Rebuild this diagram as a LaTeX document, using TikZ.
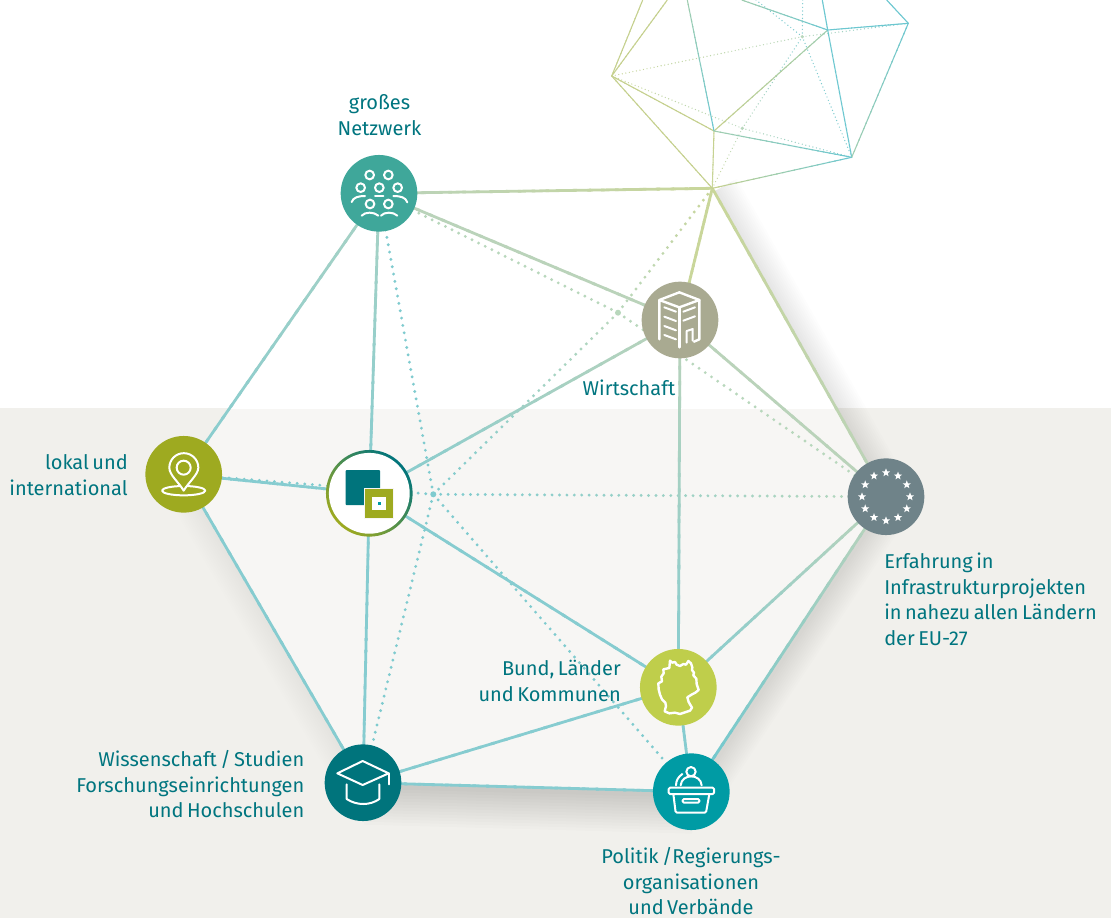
\documentclass[tikz,border=0pt]{standalone}
\usepackage{fontspec}
\setmainfont{Fira Sans}[WordSpace=0.65]
\usetikzlibrary{calc,shapes.geometric}
\pgfdeclarelayer{back}\pgfdeclarelayer{edges}\pgfsetlayers{back,edges,main}
\definecolor{txt}{HTML}{00757F}
\definecolor{pagebg}{HTML}{F1F0EC}
\definecolor{hexbg}{HTML}{F7F6F4}
\definecolor{lteal}{HTML}{86CCD0}
\definecolor{lmix}{HTML}{A8D2C4}
\definecolor{lgreen}{HTML}{BAD3BA}
\definecolor{lyel}{HTML}{C9D69A}
\definecolor{tyel}{HTML}{C5D08E}
\definecolor{tteal}{HTML}{6CC7D0}
\definecolor{tmix}{HTML}{A0CDB0}
\definecolor{dteal}{HTML}{7FCBCF}
\definecolor{dgreen}{HTML}{B8D7BC}
\definecolor{cN}{HTML}{3FA79A}
\definecolor{cW}{HTML}{A9AA91}
\definecolor{cL}{HTML}{9EAA20}
\definecolor{cE}{HTML}{6F8389}
\definecolor{cD}{HTML}{BFCE4B}
\definecolor{cP}{HTML}{009BA4}
\definecolor{cS}{HTML}{00747C}
\tikzset{
  hub/.style={circle,minimum size=57.5pt,inner sep=0pt,fill=#1},
  lab/.style={inner sep=0pt,text=txt,text height=11pt,text depth=3pt,font=\fontsize{15}{19.35}\selectfont},
  ico/.style={draw=white,line width=1.5pt,line join=round,line cap=round}
}
% gradient line: from, to, colour at from, colour at to, width
\newcommand\gl[5]{%
  \foreach \i in {0,...,23}{%
    \pgfmathtruncatemacro\pc{100*\i/23}%
    \pgfmathsetmacro\ea{\i/24}%
    \pgfmathsetmacro\eb{min(1,(\i+1.25)/24)}%
    \draw[color=#4!\pc!#3,line width=#5] ($(#1.center)!\ea!(#2.center)$) -- ($(#1.center)!\eb!(#2.center)$);
  }}
% dotted gradient line: from, to, colours, spacing px, radius px
\newcommand\dl[6]{%
  \pgfpointdiff{\pgfpointanchor{#1}{center}}{\pgfpointanchor{#2}{center}}%
  \pgfgetlastxy{\ddx}{\ddy}%
  \pgfmathtruncatemacro\nn{veclen(\ddx,\ddy)/(#5*0.75)}%
  \foreach \i in {0,...,\nn}{%
    \pgfmathtruncatemacro\pc{100*\i/\nn}%
    \pgfmathsetmacro\ea{\i/\nn}%
    \fill[color=#4!\pc!#3] ($(#1.center)!\ea!(#2.center)$) circle[radius=#6];
  }}
% soft shadow along one side: from, to, opacity, width step
\newcommand\softside[4]{%
  \foreach \k in {1,...,13}{%
    \draw[black,opacity=#3,line width=\k*#4*0.75pt]
      ([shift={(2,3)}]#1.center) -- ([shift={(2,3)}]#2.center);
  }}
\begin{document}
\begin{tikzpicture}[x=0.75pt,y=-0.75pt]
\useasboundingbox (0,0) rectangle (1111,918);
% hubs
\node[hub=cN] (N) at (379,193.3) {};
\node[hub=cW] (W) at (680,320) {};
\node[hub=cL] (L) at (183.7,474.3) {};
\node[hub=cE] (E) at (886,496.7) {};
\node[hub=cD] (D) at (678.3,687.3) {};
\node[hub=cP] (P) at (691.3,791.7) {};
\node[hub=cS] (S) at (363,782.7) {};
\node[circle,minimum size=65pt,inner sep=0pt,left color=cS,right color=cL,shading angle=-45] (Z) at (369.3,493.3) {};
\node[circle,minimum size=60.6pt,inner sep=0pt,fill=white] (Zi) at (369.3,493.3) {};
% junctions
\coordinate (T) at (712.3,188.3);
\coordinate (X) at (433.3,494.3);
\coordinate (Y) at (618,312.7);
\coordinate (Pa) at (611.7,76);
\coordinate (Pb) at (714,131);
\coordinate (Pc) at (851.7,157.3);
\coordinate (Pe) at (827.7,30);
\coordinate (Pf) at (908.3,23.3);
\coordinate (Pg) at (802.3,36.7);
\coordinate (Pv) at (742.3,128.3);
\coordinate (U1) at (642.7,0);
\coordinate (U2) at (667.3,0);
\coordinate (U3) at (687.3,0);
\coordinate (U4) at (741.7,0);
\coordinate (U5) at (822.3,0);
\coordinate (U6) at (886.7,0);
\coordinate (U7) at (756,0);
\coordinate (U8) at (802.7,0);
% backgrounds and shadow
\begin{pgfonlayer}{back}
\fill[pagebg] (0,408) rectangle (1111,918);
\softside{T}{E}{0.007}{4}
\softside{E}{P}{0.008}{4}
\softside{P}{S}{0.01}{6}
\softside{S}{L}{0.005}{4}
\begin{scope}
\clip (0,408) rectangle (1111,918);
\fill[hexbg] (N.center) -- (T.center) -- (E.center) -- (P.center) -- (S.center) -- (L.center) -- cycle;
\end{scope}
\begin{scope}
\clip (0,0) rectangle (1111,408);
\fill[white] (N.center) -- (T.center) -- (E.center) -- (P.center) -- (S.center) -- (L.center) -- cycle;
\end{scope}
\end{pgfonlayer}
% connectors
\begin{pgfonlayer}{edges}
% dotted main
\dl{N}{Y}{dgreen}{dgreen}{7.4}{1.6}
\dl{T}{Y}{lyel}{dgreen}{7.4}{1.6}
\dl{Y}{E}{dgreen}{dgreen}{7.4}{1.6}
\dl{Y}{X}{dgreen}{dteal}{7.4}{1.6}
\dl{L}{X}{dteal}{dteal}{7.4}{1.6}
\dl{N}{X}{dteal}{dteal}{7.4}{1.6}
\dl{X}{P}{dteal}{dteal}{7.4}{1.6}
\dl{X}{S}{dteal}{dteal}{7.4}{1.6}
\dl{X}{E}{dteal}{dgreen}{7.4}{1.6}
\fill[dgreen] (Y) circle[radius=3];
\fill[dteal] (X) circle[radius=3];
% solid main
\gl{N}{T}{lgreen}{lyel}{2.1pt}
\gl{N}{W}{lgreen}{lgreen}{2.1pt}
\gl{N}{L}{lmix}{lteal}{2.1pt}
\gl{N}{Z}{lmix}{lteal}{2.1pt}
\gl{Z}{S}{lteal}{lteal}{2.1pt}
\gl{L}{Z}{lteal}{lteal}{2.1pt}
\gl{L}{S}{lteal}{lteal}{2.1pt}
\gl{W}{Z}{lgreen}{lteal}{2.1pt}
\gl{W}{D}{lgreen}{lteal}{2.1pt}
\gl{W}{E}{lgreen}{lgreen}{2.1pt}
\gl{T}{W}{lyel}{lyel}{2.1pt}
\gl{T}{E}{lyel}{lgreen}{2.1pt}
\gl{E}{D}{lgreen}{lteal}{2.1pt}
\gl{E}{P}{lgreen}{tteal}{2.1pt}
\gl{Z}{D}{lteal}{lteal}{2.1pt}
\gl{D}{S}{lteal}{lteal}{2.1pt}
\gl{D}{P}{lteal}{lteal}{2.1pt}
\gl{S}{P}{lteal}{lteal}{2.1pt}
% polyhedron dotted
\dl{Pa}{Pg}{lyel}{dgreen}{3.6}{0.7}
\dl{Pg}{Pf}{dgreen}{dteal}{3.6}{0.7}
\dl{Pa}{Pv}{lyel}{dgreen}{3.6}{0.7}
\dl{Pv}{Pc}{dgreen}{dteal}{3.6}{0.7}
\dl{T}{Pv}{lyel}{dgreen}{3.6}{0.7}
\dl{Pv}{Pg}{dgreen}{dteal}{3.6}{0.7}
\dl{Pg}{Pc}{dteal}{dteal}{3.6}{0.7}
\dl{Pg}{U7}{dteal}{dteal}{3.6}{0.7}
\dl{Pg}{U8}{dteal}{dteal}{3.6}{0.7}
\fill[dgreen] (Pv) circle[radius=1.8];
\fill[dgreen] (Pg) circle[radius=1.8];
% polyhedron solid
\gl{Pa}{U1}{tyel}{tyel}{0.8pt}
\gl{Pa}{U2}{tyel}{tyel}{0.8pt}
\gl{Pa}{Pb}{tyel}{tyel}{0.8pt}
\gl{Pa}{T}{tyel}{tyel}{0.8pt}
\gl{Pb}{T}{tyel}{lyel}{0.8pt}
\gl{Pb}{Pe}{tyel}{tmix}{0.8pt}
\gl{Pb}{Pc}{tmix}{tteal}{0.8pt}
\gl{Pb}{U3}{tteal}{tmix}{0.8pt}
\gl{T}{Pc}{tyel}{tteal}{0.8pt}
\gl{Pc}{Pe}{tteal}{tteal}{0.8pt}
\gl{Pc}{Pf}{tmix}{tteal}{0.8pt}
\gl{Pe}{Pf}{tteal}{tteal}{0.8pt}
\gl{Pe}{U4}{tteal}{tmix}{0.8pt}
\gl{Pe}{U5}{tteal}{tteal}{0.8pt}
\gl{Pf}{U6}{tteal}{tteal}{0.8pt}
\end{pgfonlayer}
% icon: people
\begin{scope}[shift={(320,140)},scale=1/3]
\foreach \q/\r in {149/105,205/105,122/143,178/143,233/143,150/192,205/192}{\draw[ico] (\q,\r) circle[radius=13];}
\draw[ico] (95,186) .. controls (100,172) and (115,168) .. (135,168);
\draw[ico] (165,168) -- (190,168);
\draw[ico] (220,168) .. controls (242,168) and (257,172) .. (262,187);
\draw[ico] (125,227) .. controls (135,215) and (162,215) .. (175,227);
\draw[ico] (183,227) .. controls (193,215) and (220,215) .. (232,227);
\end{scope}
% icon: building
\begin{scope}[shift={(630,270)},scale=1/3]
\draw[ico,line width=1.8pt] (88,208) -- (88,90) -- (148,67) -- (208,90) -- (148,112) -- (88,90);
\draw[ico,line width=1.8pt] (148,112) -- (148,232);
\draw[ico,line width=1.8pt] (208,90) -- (208,208) -- (192,215);
\foreach \r in {112,140,168,195}{\draw[ico] (103,\r) -- (138,\r+13);}
\foreach \r in {125,152}{\draw[ico] (160,\r) -- (195,\r-13);}
\draw[ico] (170,218) -- (170,183) -- (188,177) -- (188,212);
\end{scope}
% icon: pin
\begin{scope}[shift={(130,425)},scale=1/3]
\draw[ico] (161,197) ellipse[x radius=65,y radius=14];
\filldraw[ico,fill=cL] (161,197) .. controls (145,170) and (118,150) .. (118,128) arc[start angle=180,end angle=0,radius=43.5,y radius=-43.5] .. controls (204,150) and (177,170) .. (161,197) -- cycle;
\draw[ico] (161,128) circle[radius=21];
\end{scope}
% icon: squares
\fill[cS,rounded corners=0.6pt] (345.7,470) rectangle (380,505);
\fill[hexbg] (364,488.3) rectangle (394.3,518.7);
\fill[cL] (365,489.3) rectangle (393.3,517.7);
\fill[white] (372.3,496.7) rectangle (385.7,510);
\fill[cP] (378,502) rectangle (381,505);
% icon: stars
\foreach \a in {0,30,...,330}{%
  \node[star,star points=5,star point ratio=2.4,fill=white,inner sep=0pt,minimum size=6.5pt] (st\a) at ($(E.center)+(\a:24 and -24)$) {};
}
% icon: Germany
\begin{scope}[shift={(630,640)},scale=1/3]
\draw[ico,line width=1.8pt] (120,62) -- (127,68) -- (135,66) -- (140,74) -- (150,78) -- (160,72) -- (168,74) -- (175,63) -- (183,70) -- (187,82) -- (186,90) -- (192,98) -- (190,106) -- (199,116) -- (200,132) -- (206,150) -- (196,158) -- (186,163) -- (172,172) -- (176,186) -- (186,203) -- (180,212) -- (165,217) -- (150,222) -- (135,218) -- (118,220) -- (104,214) -- (108,198) -- (106,188) -- (96,178) -- (90,164) -- (86,148) -- (85,130) -- (96,124) -- (94,110) -- (101,100) -- (100,88) -- (118,84) -- cycle;
\end{scope}
% icon: lectern
\begin{scope}[shift={(630,640)},scale=1/3]
\draw[ico] (183,395) circle[radius=14];
\draw[ico] (152,436) .. controls (155,400) and (212,400) .. (215,436);
\draw[ico] (138,436) .. controls (138,420) and (146,410) .. (157,402);
\draw[ico,rounded corners=1pt] (116,443) rectangle (252,462);
\draw[ico,rounded corners=1pt] (130,462) -- (137,518) -- (228,518) -- (238,462);
\draw[ico,rounded corners=1pt] (158,477) rectangle (208,488);
\end{scope}
% icon: mortarboard
\begin{scope}[shift={(310,735)},scale=1/3]
\draw[ico] (82,115) -- (158,78) -- (236,115) -- (158,150) -- cycle;
\draw[ico] (236,115) -- (236,148);
\draw[ico] (110,148) -- (110,192) .. controls (140,212) and (180,212) .. (208,192) -- (208,148);
\end{scope}
% labels
\node[lab,anchor=north,align=center] (l1) at (379.5,120.6) {großes\\Netzwerk};
\node[lab,anchor=north east,align=right] (l2) at (128,480.1) {lokal und\\international};
\node[lab,anchor=north east,align=right] (l3) at (675.5,380.3) {Wirtschaft};
\node[lab,anchor=north west,align=left] (l4) at (884,630.7) {Erfahrung in\\Infrastrukturprojekten\\in nahezu allen Ländern\\der EU-27};
\node[lab,anchor=north east,align=right] (l5) at (621,686.1) {Bund, Länder\\und Kommunen};
\node[lab,anchor=north east,align=right] (l6) at (304.5,802.9) {Wissenschaft / Studien\\Forschungseinrichtungen\\und Hochschulen};
\node[lab,anchor=north,align=center] (l7) at (691,899.9) {Politik /Regierungs-\\organisationen\\und Verbände};
\end{tikzpicture}
\end{document}
